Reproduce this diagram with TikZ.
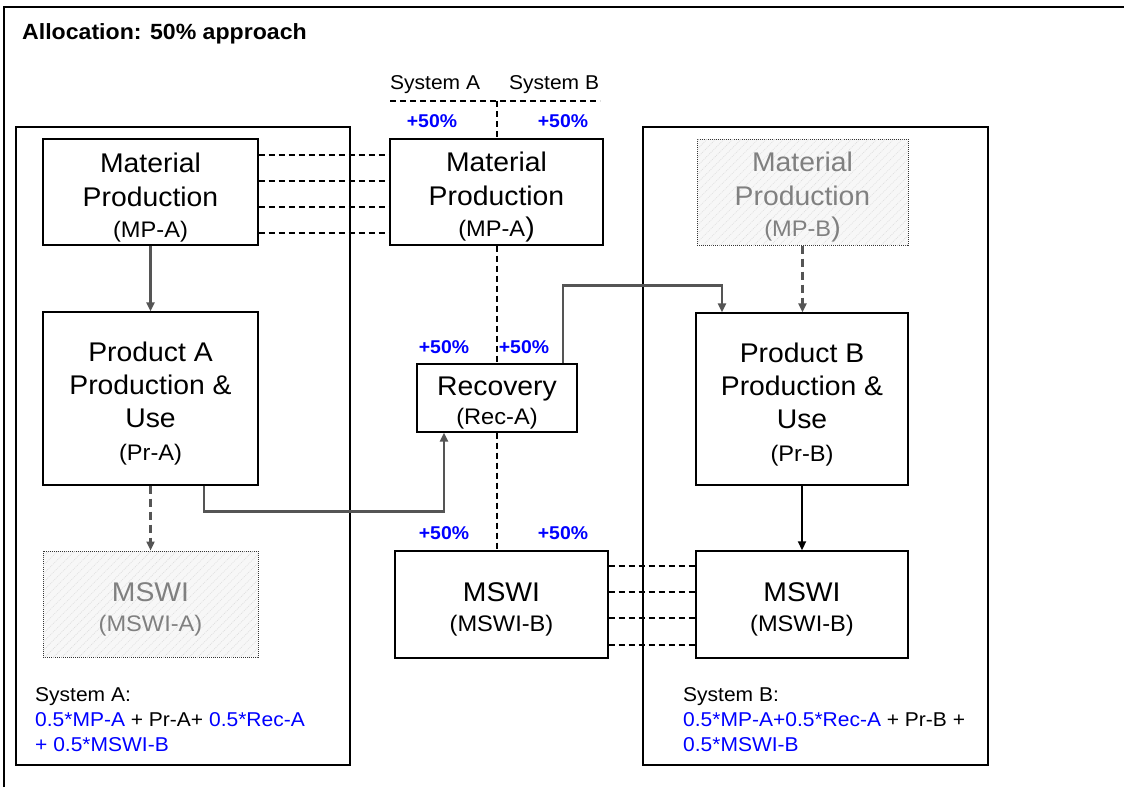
\documentclass[tikz,border=0pt]{standalone}
\usepackage{fontspec}
\setmainfont[FakeStretch=1.05]{Liberation Sans}
\usetikzlibrary{arrows.meta,patterns.meta}
\definecolor{pblue}{RGB}{0,0,255}
\definecolor{agray}{RGB}{85,85,85}
\definecolor{tgray}{RGB}{128,128,128}
\newcommand{\mainf}{\fontsize{27}{34}\selectfont}
\newcommand{\subf}{\fontsize{22.5}{34}\selectfont}
\newcommand{\tp}{\rule{0pt}{30pt}}
\begin{document}
\begin{tikzpicture}[x=1pt,y=-1pt,
  box/.style={draw=black,line width=1.4pt,rectangle,inner sep=0pt,align=center,font=\mainf},
  ghost/.style={draw=black!80,line width=1pt,densely dotted,rectangle,inner sep=0pt,align=center,font=\mainf,text=tgray,
     fill=black!3,postaction={pattern={Lines[angle=45,distance=6pt,line width=0.6pt]},pattern color=black!13}},
  conn/.style={draw=black,line width=1.3pt,dash pattern=on 6pt off 4pt},
  garrow/.style={draw=agray,line width=2.5pt,-{Triangle[length=9pt,width=8pt]}},
  darrow/.style={garrow,dash pattern=on 8pt off 5pt},
  pct/.style={text=pblue,font=\bfseries\fontsize{18.5}{22}\selectfont,inner sep=0pt},
  frame/.style={draw=black,line width=1.2pt},
  txt/.style={anchor=base west,inner sep=0pt,font=\fontsize{20}{24}\selectfont}
]
\useasboundingbox (0,0) rectangle (1124,787);
% outer frame (top and left edges)
\draw[frame] (4,787) -- (4,7) -- (1124,7);
% system boxes
\draw[frame] (16,127) rectangle (350,765);
\draw[frame] (643,127) rectangle (988,765);
% title
\node[anchor=base west,inner sep=0pt,font=\bfseries\fontsize{22}{26}\selectfont] (title) at (22,39) {Allocation: 50\% approach};
% system labels on top
\node[txt] (sysA) at (390,89) {System A};
\node[txt] (sysB) at (509,89) {System B};
\coordinate (hl) at (390,101);
\coordinate (hr) at (600,101);
\coordinate (hm) at (497,101);
% nodes
\node[box,minimum width=215pt,minimum height=106pt] (mpAL) at (150.5,192) {\tp Material\\Production\\[-3pt]{\subf (MP-A)}};
\node[box,minimum width=213pt,minimum height=106pt] (mpC) at (496.5,192) {\tp Material\\Production\\[-3pt]{\subf (MP-A}{\mainf )}};
\node[ghost,minimum width=211pt,minimum height=106pt] (mpB) at (802.5,192) {\tp Material\\Production\\[-3pt]{\subf (MP-B}{\mainf )}};
\node[box,minimum width=215pt,minimum height=173pt] (prA) at (150.5,398.5) {\tp Product A\\[-1pt]Production \&\\[-1pt]Use\\[-1pt]{\subf (Pr-A)}};
\node[box,minimum width=160pt,minimum height=68pt] (rec) at (497,398) {\rule{0pt}{28.5pt}Recovery\\[-5pt]{\subf (Rec-A)}};
\node[box,minimum width=212pt,minimum height=172pt] (prB) at (802,399) {\tp Product B\\[-1pt]Production \&\\[-1pt]Use\\[-1pt]{\subf (Pr-B)}};
\node[ghost,minimum width=215pt,minimum height=106pt] (mswiA) at (150.5,604) {\rule{0pt}{29pt}MSWI\\[-4pt]{\subf (MSWI-A)}};
\node[box,minimum width=213pt,minimum height=107pt] (mswiC) at (501.5,604.5) {\rule{0pt}{29pt}MSWI\\[-4pt]{\subf (MSWI-B)}};
\node[box,minimum width=212pt,minimum height=107pt] (mswiR) at (802,604.5) {\rule{0pt}{29pt}MSWI\\[-4pt]{\subf (MSWI-B)}};
% percentage labels
\node[pct] (p1) at (432,121) {+50\%};
\node[pct] (p2) at (563,121) {+50\%};
\node[pct] (p3) at (444,347) {+50\%};
\node[pct] (p4) at (524,347) {+50\%};
\node[pct] (p5) at (444,533) {+50\%};
\node[pct] (p6) at (563,533) {+50\%};
% dashed system split lines
\draw[conn] (hl) -- (hr);
\draw[conn] (hm) -- (hm |- mpC.north);
\draw[conn] (mpC.south -| hm) -- (rec.north -| hm);
\draw[conn] (rec.south -| hm) -- (mswiC.north -| hm);
% dashed links
\foreach \s in {37,11,-15,-41}{
  \draw[conn] ([yshift=\s pt]mpAL.east) -- ([yshift=\s pt]mpAL.east -| mpC.west);
}
\foreach \s in {38.5,12.5,-13.5,-40.5}{
  \draw[conn] ([yshift=\s pt]mswiC.east) -- ([yshift=\s pt]mswiC.east -| mswiR.west);
}
% arrows
\draw[garrow] (mpAL.south) -- (prA.north);
\draw[darrow] (prA.south) -- (mswiA.north);
\draw[garrow] ([xshift=53.5pt]prA.south) -- ++(0,26) -| ([xshift=-53pt]rec.south);
\draw[garrow] ([xshift=66pt]rec.north) -- ++(0,-78) -| ([xshift=-80pt]prB.north);
\draw[darrow] (mpB.south) -- (mpB.south |- prB.north);
\draw[garrow,draw=black,line width=1.8pt] (prB.south) -- (mswiR.north);
% system formulas
\node[txt] (fa1) at (35,701) {System A:};
\node[txt] (fa2) at (35,726) {\textcolor{pblue}{0.5*MP-A} + Pr-A+ \textcolor{pblue}{0.5*Rec-A}};
\node[txt,text=pblue] (fa3) at (35,751) {+ 0.5*MSWI-B};
\node[txt] (fb1) at (683,701) {System B:};
\node[txt] (fb2) at (683,726) {\textcolor{pblue}{0.5*MP-A+0.5*Rec-A} + Pr-B +};
\node[txt,text=pblue] (fb3) at (683,751) {0.5*MSWI-B};
\end{tikzpicture}
\end{document}
